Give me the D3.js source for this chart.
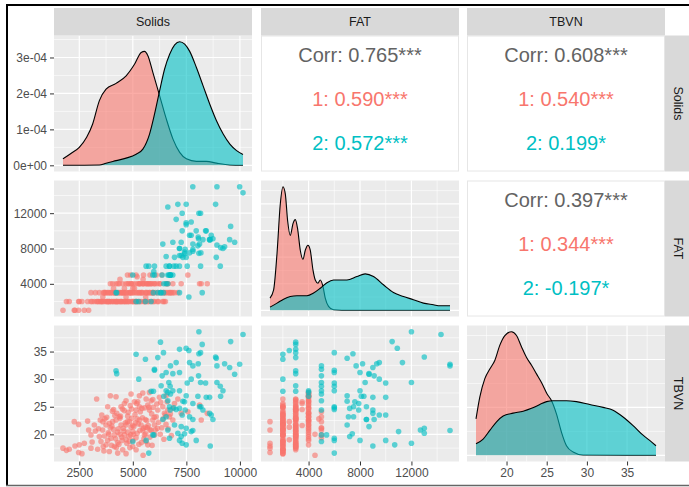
<!DOCTYPE html>
<html>
<head>
<meta charset="utf-8">
<script src="https://cdn.jsdelivr.net/npm/d3@7"></script>
<style>
  body { margin: 0; background: #fff; }
  svg { display: block; font-family: "Liberation Sans", Arial, sans-serif; }
</style>
</head>
<body>
<div id="chart"></div>
<script>
// variables of the pairs matrix, in panel order
var vars = ["Solids", "FAT", "TBVN"];
var groupColors = ["#F8766D", "#00BFC4"];

// observations [Solids, FAT, TBVN], group 1
var group1Obs = [
  [1740,1000,17.5],[1900,2000,17.1],[2032,2000,17.3],[2266,1000,22.3],[2300,1000,17.9],
  [2469,1000,16.7],[2500,2000,18.1],[2625,2000,16.5],[2734,1000,18.4],[2469,2000,21.8],
  [2890,2000,22.4],[2937,1000,20.8],[3046,2000,19.9],[3046,3000,17.5],[3202,2000,21.7],
  [3311,2000,26.4],[3358,2000,17.3],[3436,3000,19.6],[3514,2000,18.7],[3592,2000,20.8],
  [3670,3000,19.7],[3748,2000,21.7],[3748,3000,18.1],[3826,2000,18.9],[3826,3000,25.0],
  [3904,2000,22.0],[3904,2000,16.9],[3951,4000,27.0],[3982,3000,19.3],[4060,4000,22.3],
  [4138,2000,19.9],[4138,3000,17.8],[4216,4000,26.8],[4216,2000,22.6],[4294,3000,18.5],
  [4294,2000,16.6],[4372,4000,23.2],[4450,3000,21.7],[4450,2000,25.0],[4528,3000,17.2],
  [4559,2000,21.1],[4606,3500,25.6],[4606,3000,19.9],[4684,2000,16.5],[4684,2500,19.0],
  [4684,3000,26.1],[4762,4000,23.3],[4840,3000,22.3],[4840,2000,18.7],[4918,4000,21.3],
  [4918,4000,27.3],[4996,3000,20.5],[4996,2000,17.8],[5074,3500,25.9],[5152,3000,24.4],
  [5152,2000,17.2],[5230,4000,25.9],[5308,3000,25.0],[5308,4000,22.6],[5308,4000,27.0],
  [5386,3000,21.7],[5464,4000,20.8],[5464,4000,27.5],[5542,2000,19.9],[5620,4000,26.4],
  [5620,3000,18.7],[5698,2000,25.3],[5698,4000,18.1],[5776,3000,24.4],[5776,4000,27.6],
  [5854,4000,26.1],[5854,2000,20.8],[5932,3000,26.3],[5932,3000,22.6],[6010,4000,21.7],
  [6010,2000,19.9],[6088,5000,23.2],[6166,3000,24.4],[6244,4000,26.7],[6400,2000,25.0],
  [6478,3000,23.8],[6556,4000,27.0],[6634,3000,24.4],[6712,3000,23.2],[6868,3000,22.6],
  [6868,4000,24.7],[6946,3000,25.6],[7102,3000,26.4],[7258,4000,23.8],[7570,5000,24.1],
  [8116,4000,25.3],[8194,4000,22.6],[8475,4000,23.8],[3400,2000,21.0],[3550,2000,23.5],
  [3650,2000,17.0],[3700,3000,22.8],[3850,2000,20.3],[3950,3000,21.2],[4000,2000,18.0],
  [4050,3000,24.2],[4100,2000,20.9],[4200,3000,19.2],[4250,2000,23.8],[4300,4000,20.4],
  [4350,2000,18.2],[4400,3000,22.9],[4480,2000,19.5],[4520,4000,24.6],[4580,3000,20.6],
  [4650,2000,22.1],[4720,3000,18.4],[4780,2000,24.0],[4820,4000,19.6],[4880,3000,25.2],
  [4950,2000,22.9],[5000,4000,18.9],[5050,3000,21.4],[5100,2000,23.6],[5150,5000,19.4],
  [5200,3000,20.2],[5250,2000,21.9],[5350,4000,24.1],[5400,2000,18.5],[5450,3000,23.0],
  [5500,5000,21.1],[5550,2000,24.8],[5600,3000,20.1],[5650,4000,22.5],[5720,2000,21.6],
  [5800,3000,19.5],[5880,4000,23.7],[5950,2000,24.9],[6050,3000,20.8],[6120,4000,25.5],
  [6200,2000,22.2],[6300,3000,25.8],[6350,5000,21.2],[6450,2000,19.1],[6550,3000,21.8],
  [6600,4000,25.9],[6750,3000,23.7],[6800,3000,19.8],[5480,4500,16.2],[4400,4500,20.0],
  [5200,4800,22.8],[3600,2500,22.3],[4100,3500,24.5],[5000,3500,21.6],[5600,2500,21.3],
  [4750,5000,22.3],[5800,5000,20.8],[4900,5000,19.9],
  [3100,2000,18.6],[3250,3000,20.6],[3480,2000,22.6],[3620,3000,17.8],[3780,2000,23.1],
  [3880,3000,20.0],[4020,2000,21.5],[4160,3000,23.4],[4230,2000,17.6],[4330,3000,21.0],
  [4420,2000,23.3],[4500,3000,18.9],[4600,2000,24.3],[4680,4000,21.7],[4760,2000,20.4],
  [4860,3000,17.6],[4940,3000,24.6],[5030,2000,20.0],[5120,4000,22.1],[5180,2000,25.6],
  [5280,3000,18.2],[5330,2000,20.7],[5420,3000,24.7],[5520,4000,19.2],[5580,2000,22.7],
  [5680,3000,21.2],[5750,4000,24.9],[5900,3000,18.0],[6000,4000,23.1],[6150,2000,21.1],
  [6280,4000,20.0],[6420,3000,22.8],[6520,2000,23.5],[6650,4000,21.0]
];

// observations [Solids, FAT, TBVN], group 2
var group2Obs = [
  [10144,14300,38.1],[8085,12000,38.6],[9567,10500,36.8],[6291,3000,36.7],[8240,3000,36.3],
  [7180,3000,35.4],[7490,10900,35.6],[7617,2500,35.2],[6431,3000,34.8],[5152,2000,34.5],
  [8163,6000,34.8],[8085,7450,34.6],[8865,13000,34.0],[8896,7000,33.8],[5589,2000,33.6],
  [6166,3000,33.9],[7024,11300,33.0],[7648,9500,33.0],[7804,7700,32.4],[8054,9300,32.8],
  [9286,8200,32.8],[9520,9000,32.1],[9988,15000,32.7],[8927,15000,32.4],[9754,8700,30.9],
  [6010,5000,31.8],[6010,6000,31.6],[4216,3000,31.5],[4247,3000,31.0],[5277,2000,30.0],
  [6369,5000,30.6],[6556,6000,31.2],[6759,5000,32.4],[6868,8700,31.0],[7180,8000,31.2],
  [8069,9100,30.6],[8163,12000,29.4],[8397,10000,29.3],[8927,8400,29.4],[9083,6000,28.7],
  [9208,8000,27.9],[5854,2000,27.8],[5963,3000,27.8],[6322,3000,28.8],[6556,4000,27.9],
  [6634,4000,27.6],[6447,4000,26.9],[6681,5000,29.4],[6743,5000,28.7],[6759,5000,27.3],
  [6868,5000,27.9],[7180,6000,27.9],[7539,6000,29.3],[7726,9500,30.0],[7492,7000,27.0],
  [7336,7000,26.0],[7414,7600,25.9],[6634,5000,26.1],[6712,6000,25.0],[6915,6000,24.8],
  [7024,6000,24.5],[7180,7200,24.7],[7445,7900,24.4],[7804,7900,25.6],[8038,8300,26.9],
  [8116,8500,25.0],[8272,9000,24.4],[8428,10000,26.7],[8584,9000,26.7],[8178,7500,25.0],
  [9099,8100,26.9],[8584,9000,23.8],[8662,9500,23.5],[8740,9100,22.7],[7648,7500,23.2],
  [7305,10000,23.5],[6743,5000,24.4],[6400,8500,22.7],[6556,7100,23.2],[6946,7000,21.7],
  [7258,8700,21.4],[7492,13000,21.1],[7804,8500,22.7],[7726,11000,20.5],[6634,12700,20.8],
  [6712,6000,19.3],[7102,13000,20.2],[7258,7200,19.6],[7414,7400,20.1],[7800,15000,20.7],
  [7180,8000,18.9],[7305,12000,18.4],[7960,10000,18.9],[7492,10700,18.1],[5932,5000,19.9],
  [5979,5400,19.9],[5745,6000,16.6],[4996,5000,18.7],[5620,6000,18.9],[8615,9000,17.9]
];

// density curves [value, density], Solids and FAT density in units of 1e-4
var densSolids1 = [[1740,0.18],[2109,0.33],[2500,0.5],[2844,0.78],[3125,1.15],[3438,1.8],[3750,2.12],
  [4219,2.28],[4688,2.49],[5078,2.81],[5391,3.14],[5547,3.17],[5703,3.05],[5938,2.58],[6250,1.94],
  [6563,1.29],[6875,0.73],[7188,0.36],[7500,0.18],[7969,0.11],[8438,0.11],[8906,0.06],[9531,0.01],[10144,0]];
var densSolids2 = [[1740,0],[3438,0.01],[3750,0.06],[4219,0.13],[4688,0.2],[5156,0.31],[5469,0.45],
  [5781,0.87],[6016,1.43],[6250,2.07],[6484,2.68],[6719,3.09],[6953,3.35],[7188,3.44],[7422,3.37],
  [7656,3.17],[7969,2.72],[8281,2.21],[8594,1.70],[8906,1.24],[9219,0.87],[9531,0.59],[9844,0.41],[10144,0.30]];
var densFat1 = [[1000,0.46],[1282,0.77],[1546,2.14],[1802,4.01],[2012,4.65],[2190,4.38],[2369,3.38],
  [2579,2.82],[2788,3.26],[2967,3.41],[3146,3.07],[3355,2.26],[3565,1.92],[3744,2.26],[3953,2.45],
  [4132,2.26],[4342,1.52],[4520,1.14],[4730,1.02],[4909,1.14],[5118,0.90],[5297,0.46],[5553,0.15],
  [5942,0.02],[7239,0],[15000,0]];
var densFat2 = [[1000,0.12],[1546,0.27],[2058,0.42],[2579,0.52],[3099,0.55],[3876,0.55],[4388,0.65],
  [4909,0.83],[5429,1.04],[5942,1.14],[6983,1.14],[7759,1.27],[8404,1.37],[9049,1.27],[9825,0.96],
  [10602,0.67],[11379,0.52],[12155,0.40],[12932,0.27],[13709,0.21],[14229,0.17],[15000,0.17]];
var densTbvn1 = [[16.2,0.038],[16.68,0.061],[17.3,0.080],[17.92,0.090],[18.54,0.099],[19.17,0.115],
  [19.79,0.125],[20.62,0.129],[21.24,0.125],[21.87,0.113],[22.49,0.102],[23.11,0.094],[23.73,0.085],
  [24.35,0.076],[25.05,0.064],[25.6,0.057],[26.22,0.043],[26.84,0.024],[27.46,0.010],[28.28,0.0035],
  [29.53,0.0003],[38.6,0]];
var densTbvn2 = [[16.2,0.012],[17.09,0.017],[17.92,0.026],[18.76,0.035],[19.58,0.041],[20.82,0.044],
  [22.07,0.046],[23.11,0.049],[24.14,0.053],[24.98,0.056],[25.8,0.057],[27.46,0.057],[28.71,0.056],
  [30.36,0.053],[32.02,0.050],[33.26,0.047],[34.5,0.040],[35.75,0.031],[36.99,0.021],[38.03,0.014],[38.6,0.010]];

// axis breaks
var solidsTicks = [2500, 5000, 7500, 10000];
var fatTicks = [4000, 8000, 12000];
var tbvnTicks = [20, 25, 30, 35];
var densSolidsTicks = [0, 1, 2, 3];
var densSolidsLabels = ["0e+00", "1e-04", "2e-04", "3e-04"];
var densFatTicks = [0, 1, 2, 3, 4];
var densTbvnTicks = [0, 0.05, 0.1];

// correlation text of the upper panels
var corrSolidsFat = ["Corr: 0.765***", "1: 0.590***", "2: 0.572***"];
var corrSolidsTbvn = ["Corr: 0.608***", "1: 0.540***", "2: 0.199*"];
var corrFatTbvn = ["Corr: 0.397***", "1: 0.344***", "2: -0.197*"];

var width = 689, height = 487;
var colX = [54, 261, 467], colW = 198;
var rowY = [35.5, 180.5, 325.5], rowH = 136;
var stripTop = 8;

var svg = d3.select("#chart").append("svg")
    .attr("width", width)
    .attr("height", height);

svg.append("rect").attr("width", width).attr("height", height).attr("fill", "#fff");

var allObs = group1Obs.concat(group2Obs);
var dens = [[densSolids1, densSolids2], [densFat1, densFat2], [densTbvn1, densTbvn2]];
var ticks = [solidsTicks, fatTicks, tbvnTicks];
var densTicks = [densSolidsTicks, densFatTicks, densTbvnTicks];
var corr = {"0-1": corrSolidsFat, "0-2": corrSolidsTbvn, "1-2": corrFatTbvn};

// ggplot style scales: data range + 5% each side
var xScales = vars.map(function(v, i) {
    var ext = d3.extent(allObs, d => d[i]);
    var pad = (ext[1] - ext[0]) * 0.05;
    return d3.scaleLinear().domain([ext[0] - pad, ext[1] + pad]).range([colX[i], colX[i] + colW]);
});
var yScales = vars.map(function(v, i) {
    var ext = d3.extent(allObs, d => d[i]);
    var pad = (ext[1] - ext[0]) * 0.05;
    return d3.scaleLinear().domain([ext[0] - pad, ext[1] + pad]).range([rowY[i] + rowH, rowY[i]]);
});
var densScales = vars.map(function(v, i) {
    var m = d3.max(dens[i][0].concat(dens[i][1]), d => d[1]);
    return d3.scaleLinear().domain([-0.05 * m, 1.05 * m]).range([rowY[i] + rowH, rowY[i]]);
});

function minorBreaks(majors, domain) {
    var step = majors[1] - majors[0];
    var out = [];
    for (var k = -1; k < majors.length; ++k) {
        var m = majors[0] + step * (k + 0.5);
        if (m > domain[0] && m < domain[1]) out.push(m);
    }
    return out;
}

function drawGrid(g, xs, xt, ys, yt) {
    var xd = xs.domain(), yd = ys.domain();
    var xr = xs.range(), yr = ys.range();
    g.selectAll(null).data(minorBreaks(xt, xd)).join("line")
        .attr("x1", d => xs(d)).attr("x2", d => xs(d))
        .attr("y1", yr[0]).attr("y2", yr[1])
        .attr("stroke", "#fff").attr("stroke-width", 0.6);
    g.selectAll(null).data(minorBreaks(yt, yd)).join("line")
        .attr("y1", d => ys(d)).attr("y2", d => ys(d))
        .attr("x1", xr[0]).attr("x2", xr[1])
        .attr("stroke", "#fff").attr("stroke-width", 0.6);
    g.selectAll(null).data(xt.filter(d => d >= xd[0] && d <= xd[1])).join("line")
        .attr("x1", d => xs(d)).attr("x2", d => xs(d))
        .attr("y1", yr[0]).attr("y2", yr[1])
        .attr("stroke", "#fff").attr("stroke-width", 1.2);
    g.selectAll(null).data(yt.filter(d => d >= yd[0] && d <= yd[1])).join("line")
        .attr("y1", d => ys(d)).attr("y2", d => ys(d))
        .attr("x1", xr[0]).attr("x2", xr[1])
        .attr("stroke", "#fff").attr("stroke-width", 1.2);
}

for (var i = 0; i < 3; ++i) {
    for (var j = 0; j < 3; ++j) {
        var g = svg.append("g");
        if (i < j) {
            // upper: correlation text
            g.append("rect")
                .attr("x", colX[j] + 0.5).attr("y", rowY[i] + 0.5)
                .attr("width", colW - 1).attr("height", rowH - 1)
                .attr("fill", "#fff").attr("stroke", "#e6e6e6");
            var cy = rowY[i] + rowH / 2;
            var lines = corr[i + "-" + j];
            var offs = [-49, -5, 39];
            var cols = ["#636363", groupColors[0], groupColors[1]];
            g.selectAll("text").data(lines).join("text")
                .attr("x", colX[j] + colW / 2)
                .attr("y", (d, k) => cy + offs[k])
                .attr("text-anchor", "middle")
                .attr("dominant-baseline", "central")
                .attr("font-size", "20px")
                .attr("fill", (d, k) => cols[k])
                .text(d => d);
            continue;
        }
        g.append("rect")
            .attr("x", colX[j]).attr("y", rowY[i])
            .attr("width", colW).attr("height", rowH)
            .attr("fill", "#EBEBEB");

        if (i == j) {
            var ds = densScales[i];
            drawGrid(g, xScales[j], ticks[j], ds, densTicks[i]);
            var area = d3.area()
                .curve(d3.curveMonotoneX)
                .x(d => xScales[j](d[0]))
                .y0(ds(0))
                .y1(d => ds(d[1]));
            var line = area.lineY1();
            dens[i].forEach(function(curve, k) {
                g.append("path")
                    .attr("d", area(curve))
                    .attr("fill", groupColors[k])
                    .attr("fill-opacity", 0.6);
                g.append("path")
                    .attr("d", line(curve))
                    .attr("fill", "none")
                    .attr("stroke", "#000")
                    .attr("stroke-width", 1.1);
            });
        } else {
            drawGrid(g, xScales[j], ticks[j], yScales[i], ticks[i]);
            [group1Obs, group2Obs].forEach(function(obs, k) {
                g.selectAll(null).data(obs).join("circle")
                    .attr("cx", d => xScales[j](d[j]))
                    .attr("cy", d => yScales[i](d[i]))
                    .attr("r", 2.8)
                    .attr("fill", groupColors[k])
                    .attr("fill-opacity", 0.62);
            });
        }
    }
}

// left axes
function styleAxis(g) {
    g.select(".domain").remove();
    g.selectAll(".tick line").attr("stroke", "#333");
    g.selectAll(".tick text").attr("fill", "#4D4D4D").attr("font-size", "12px")
        .attr("font-family", "'Liberation Sans', Arial, sans-serif");
}
svg.append("g")
    .attr("transform", `translate(${colX[0]},0)`)
    .call(d3.axisLeft(densScales[0]).tickValues(densSolidsTicks)
        .tickFormat((d, k) => densSolidsLabels[k]).tickSize(4).tickPadding(3))
    .call(styleAxis);
for (var r = 1; r < 3; ++r) {
    svg.append("g")
        .attr("transform", `translate(${colX[0]},0)`)
        .call(d3.axisLeft(yScales[r]).tickValues(ticks[r]).tickFormat(d3.format("d")).tickSize(4).tickPadding(3))
        .call(styleAxis);
}
// bottom axes
for (var c = 0; c < 3; ++c) {
    svg.append("g")
        .attr("transform", `translate(0,${rowY[2] + rowH})`)
        .call(d3.axisBottom(xScales[c]).tickValues(ticks[c]).tickFormat(d3.format("d")).tickSize(4).tickPadding(3))
        .call(styleAxis);
}

// strips
vars.forEach(function(v, k) {
    svg.append("rect")
        .attr("x", colX[k]).attr("y", stripTop)
        .attr("width", colW).attr("height", rowY[0] - stripTop)
        .attr("fill", "#D9D9D9");
    svg.append("text")
        .attr("x", colX[k] + colW / 2).attr("y", (stripTop + rowY[0]) / 2)
        .attr("text-anchor", "middle").attr("dominant-baseline", "central")
        .attr("font-size", "12.5px").attr("fill", "#1A1A1A")
        .text(v);
    svg.append("rect")
        .attr("x", colX[2] + colW).attr("y", rowY[k])
        .attr("width", 26).attr("height", rowH)
        .attr("fill", "#D9D9D9");
    var tx = colX[2] + colW + 13, ty = rowY[k] + rowH / 2;
    svg.append("text")
        .attr("transform", `translate(${tx},${ty}) rotate(90)`)
        .attr("text-anchor", "middle").attr("dominant-baseline", "central")
        .attr("font-size", "12.5px").attr("fill", "#1A1A1A")
        .text(v);
});

// screenshot frame
svg.append("line").attr("x1", 6).attr("x2", width).attr("y1", 5).attr("y2", 5)
    .attr("stroke", "#000").attr("stroke-width", 2);
svg.append("line").attr("x1", 7).attr("x2", 7).attr("y1", 4).attr("y2", 486)
    .attr("stroke", "#000").attr("stroke-width", 2);
svg.append("line").attr("x1", 6).attr("x2", width).attr("y1", 485.5).attr("y2", 485.5)
    .attr("stroke", "#666").attr("stroke-width", 1.5);
</script>
</body>
</html>
